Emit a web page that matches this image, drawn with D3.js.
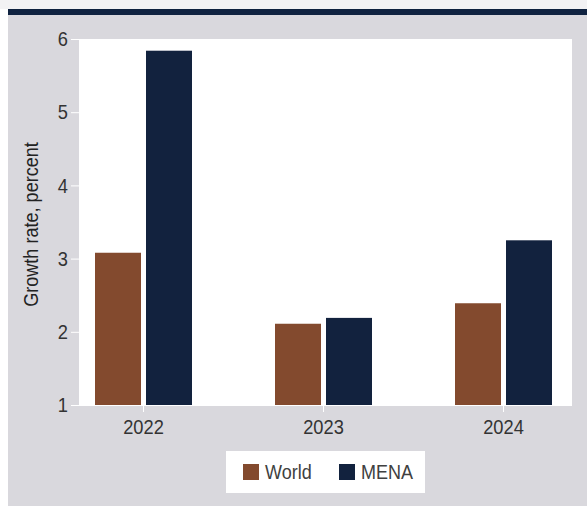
<!DOCTYPE html>
<html>
<head>
<meta charset="utf-8">
<script src="https://cdn.jsdelivr.net/npm/d3@7"></script>
<style>
  html, body { margin: 0; padding: 0; background: #ffffff; }
  svg { display: block; }
  text { font-family: "Liberation Sans Narrow", "Arial Narrow", "Liberation Sans", Arial, sans-serif; }
</style>
</head>
<body>
<div id="chart"></div>
<script>
const years = ["2022", "2023", "2024"];
const seriesNames = ["World", "MENA"];
const worldValues = [3.08, 2.11, 2.39];
const menaValues = [5.84, 2.19, 3.25];
const yTicks = [1, 2, 3, 4, 5, 6];
const yLabel = "Growth rate, percent";
const colors = { World: "#834a2e", MENA: "#12223e" };

const W = 587, H = 506;
const svg = d3.select("#chart").append("svg").attr("width", W).attr("height", H);

// condensed look: squeeze glyphs horizontally (text stays real text)
function condense(sel, f) {
  sel.each(function () {
    const L = this.getComputedTextLength();
    d3.select(this).attr("textLength", L * f).attr("lengthAdjust", "spacingAndGlyphs");
  });
}

// frame
svg.append("rect").attr("x", 0).attr("y", 0).attr("width", W).attr("height", 9).attr("fill", "#f2f2f4");
svg.append("rect").attr("x", 8).attr("y", 15).attr("width", W - 8).attr("height", H - 15).attr("fill", "#d9d8dd");
svg.append("rect").attr("x", 8).attr("y", 9).attr("width", W - 8).attr("height", 6).attr("fill", "#0f2240");

const plot = { left: 79, right: 572, top: 39, bottom: 405 };
svg.append("rect").attr("x", plot.left).attr("y", plot.top)
  .attr("width", plot.right - plot.left).attr("height", plot.bottom - plot.top).attr("fill", "#ffffff");

const y = d3.scaleLinear().domain([1, 6]).range([plot.bottom, plot.top]);
const x = d3.scaleBand().domain(years).range([53.5, 593.5]).padding(0);
const xs = d3.scaleBand().domain(seriesNames).range([-48.5, 48.5]).paddingInner(5 / 51).paddingOuter(0);

const data = years.map((yr, i) => ({ year: yr, World: worldValues[i], MENA: menaValues[i] }));

const groups = svg.append("g").selectAll("g").data(data).join("g")
  .attr("transform", d => `translate(${x(d.year) + x.bandwidth() / 2},0)`);
groups.selectAll("rect").data(d => seriesNames.map(s => ({ key: s, value: d[s] }))).join("rect")
  .attr("x", d => xs(d.key))
  .attr("width", xs.bandwidth())
  .attr("y", d => y(d.value))
  .attr("height", d => y(1) - y(d.value))
  .attr("fill", d => colors[d.key]);

// y axis
const yAxis = svg.append("g").attr("transform", `translate(${plot.left},0)`)
  .call(d3.axisLeft(y).tickValues(yTicks).tickFormat(d3.format("d")).tickSize(8).tickPadding(3));
yAxis.select(".domain").remove();
yAxis.selectAll(".tick line").attr("stroke", "#ffffff").attr("stroke-width", 1);
yAxis.selectAll(".tick text").attr("fill", "#333333").style("font-size", "21px")
  .style("font-family", null);
condense(yAxis.selectAll(".tick text"), 0.87);

// x axis
const xAxis = svg.append("g").attr("transform", `translate(0,${plot.bottom})`)
  .call(d3.axisBottom(x).tickSize(7).tickPadding(7));
xAxis.select(".domain").remove();
xAxis.append("line").attr("x1", 73).attr("x2", plot.right).attr("y1", 0.5).attr("y2", 0.5)
  .attr("stroke", "#ffffff").attr("stroke-width", 1);
xAxis.selectAll(".tick line").attr("stroke", "#ffffff").attr("stroke-width", 1);
xAxis.selectAll(".tick text").attr("fill", "#333333").style("font-size", "21px");
condense(xAxis.selectAll(".tick text"), 0.87);
svg.selectAll(".tick text").attr("font-family", null);
svg.selectAll("g").attr("font-family", null);

// y label
const yl = svg.append("text")
  .attr("transform", `translate(38,${(142 + 307) / 2}) rotate(-90)`)
  .attr("text-anchor", "middle")
  .attr("fill", "#222222")
  .style("font-size", "21px")
  .text(yLabel);
condense(yl, 0.86);

// legend
const lg = svg.append("g");
lg.append("rect").attr("x", 226).attr("y", 451).attr("width", 199).attr("height", 42).attr("fill", "#ffffff");
const legendX = [243, 339];
seriesNames.forEach((s, i) => {
  lg.append("rect").attr("x", legendX[i]).attr("y", 464).attr("width", 16).attr("height", 16).attr("fill", colors[s]);
  const t = lg.append("text").attr("x", legendX[i] + 22).attr("y", 479).attr("fill", "#404040")
    .style("font-size", "20px").text(s);
  condense(t, 0.9);
});
</script>
</body>
</html>
